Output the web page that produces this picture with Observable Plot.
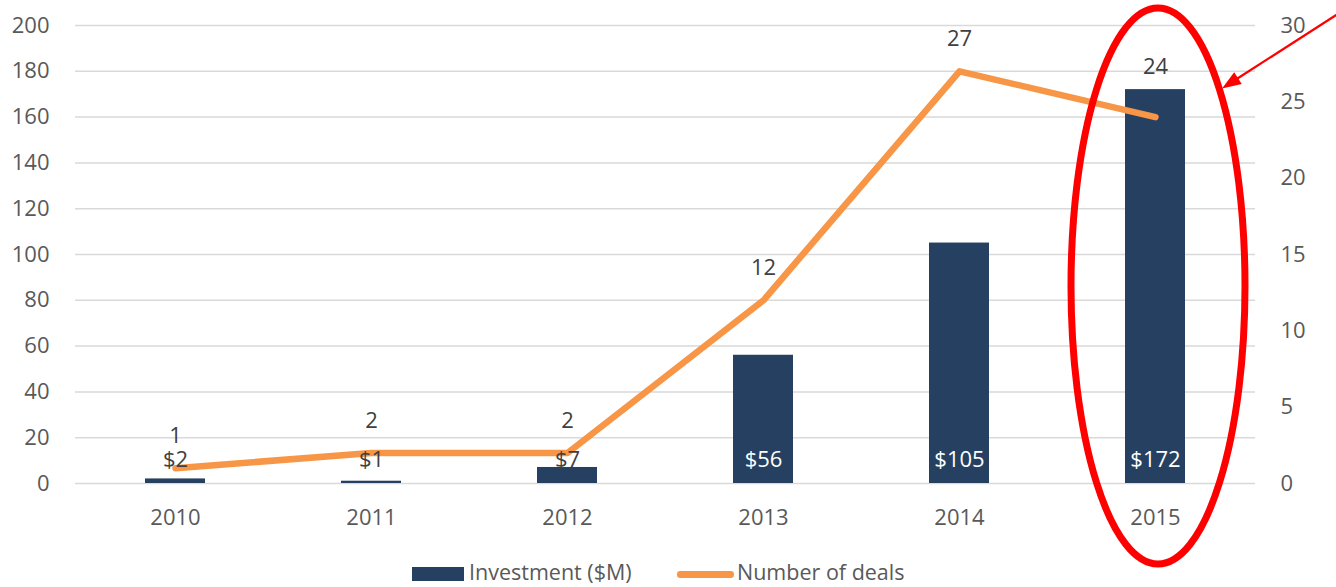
<!DOCTYPE html>
<html>
<head>
<meta charset="utf-8">
<script src="https://cdn.jsdelivr.net/npm/d3@7"></script>
<script src="https://cdn.jsdelivr.net/npm/@observablehq/plot@0.6"></script>
<style>
  html, body { margin: 0; padding: 0; background: #fff; }
  #wrap { position: relative; width: 1336px; height: 587px; overflow: hidden; font-family: "Open Sans", sans-serif; }
  .lg { position: absolute; font-size: 21.5px; color: #595959; line-height: 1; white-space: nowrap; }
</style>
</head>
<body>
<div id="wrap"></div>
<script>
const years = ["2010", "2011", "2012", "2013", "2014", "2015"];
const investment = [2, 1, 7, 56, 105, 172];
const deals = [1, 2, 2, 12, 27, 24];
const leftTicks = [0, 20, 40, 60, 80, 100, 120, 140, 160, 180, 200];
const rightTicks = [0, 5, 10, 15, 20, 25, 30];
const invMax = 200;
const dealsMax = 30;
const seriesNames = ["Investment ($M)", "Number of deals"];

const barColor = "#264061";
const lineColor = "#F79646";

const data = years.map((year, i) => ({ year, inv: investment[i], deals: deals[i] }));
const toLeft = v => v * invMax / dealsMax;

const plot = Plot.plot({
  width: 1336,
  height: 587,
  marginLeft: 75,
  marginRight: 81,
  marginTop: 25,
  marginBottom: 104,
  style: { fontFamily: "Open Sans, sans-serif", fontSize: "22px", color: "#595959", background: "white", overflow: "visible" },
  x: { domain: years, padding: 0 },
  y: { domain: [0, invMax] },
  marks: [
    Plot.gridY(leftTicks, { stroke: "#d9d9d9", strokeOpacity: 1, strokeWidth: 1.5 }),
    Plot.axisY(leftTicks, { tickSize: 0, tickPadding: 26, fontSize: 22, label: null }),
    Plot.text(rightTicks, { y: d => toLeft(d), text: d => String(d), frameAnchor: "right", textAnchor: "start", dx: 25, fontSize: 22, fill: "#595959" }),
    Plot.axisX({ tickSize: 0, tickPadding: 26, fontSize: 22, label: null }),
    Plot.barY(data, { x: "year", y: "inv", fill: barColor, insetLeft: 68, insetRight: 68 }),
    Plot.line(data, { x: "year", y: d => toLeft(d.deals), stroke: lineColor, strokeWidth: 6.5, strokeLinecap: "round", strokeLinejoin: "round" }),
    Plot.text(data, { x: "year", y: 0, dy: -24, text: d => "$" + d.inv, fontSize: 22, fill: d => d.inv > 20 ? "white" : "#404040" }),
    Plot.text(data.filter(d => d.year !== "2015"), { x: "year", y: d => toLeft(d.deals), dy: -32, text: d => String(d.deals), fontSize: 22, fill: "#404040" }),
    Plot.text(data.filter(d => d.year === "2015"), { x: "year", y: d => toLeft(d.deals), dy: -50, text: d => String(d.deals), fontSize: 22, fill: "#404040" })
  ]
});

const wrap = document.getElementById("wrap");
wrap.appendChild(plot);

// Annotation: red ellipse around 2015 and arrow
const xs = plot.scale("x");
const cx = xs.apply("2015") + xs.bandwidth / 2 + 3;
const svg = d3.select(plot);
svg.append("ellipse")
  .attr("cx", cx).attr("cy", 286)
  .attr("rx", 87).attr("ry", 278)
  .attr("fill", "none").attr("stroke", "#FF0000").attr("stroke-width", 7);

const start = [1340, 12.5], tip = [1222, 88.5];
const vx = tip[0] - start[0], vy = tip[1] - start[1];
const len = Math.hypot(vx, vy);
const ux = vx / len, uy = vy / len, nx = -uy, ny = ux;
const headLen = 19, headHalf = 7;
const base = [tip[0] - headLen * ux, tip[1] - headLen * uy];
svg.append("line")
  .attr("x1", start[0]).attr("y1", start[1])
  .attr("x2", base[0] + 2 * ux).attr("y2", base[1] + 2 * uy)
  .attr("stroke", "#FF0000").attr("stroke-width", 2.2);
svg.append("path")
  .attr("d", `M${tip[0]},${tip[1]}L${base[0] + headHalf * nx},${base[1] + headHalf * ny}L${base[0] - headHalf * nx},${base[1] - headHalf * ny}Z`)
  .attr("fill", "#FF0000");

// Legend
const sw1 = document.createElement("div");
sw1.style.cssText = `position:absolute;left:412px;top:567px;width:52px;height:14px;background:${barColor};`;
wrap.appendChild(sw1);
const t1 = document.createElement("div");
t1.className = "lg"; t1.textContent = seriesNames[0];
t1.style.cssText = "left:469px;top:561px;";
wrap.appendChild(t1);
const sw2 = document.createElement("div");
sw2.style.cssText = `position:absolute;left:677px;top:571px;width:57px;height:6.5px;border-radius:3.25px;background:${lineColor};`;
wrap.appendChild(sw2);
const t2 = document.createElement("div");
t2.className = "lg"; t2.textContent = seriesNames[1];
t2.style.cssText = "left:737px;top:561px;";
wrap.appendChild(t2);
</script>
</body>
</html>
